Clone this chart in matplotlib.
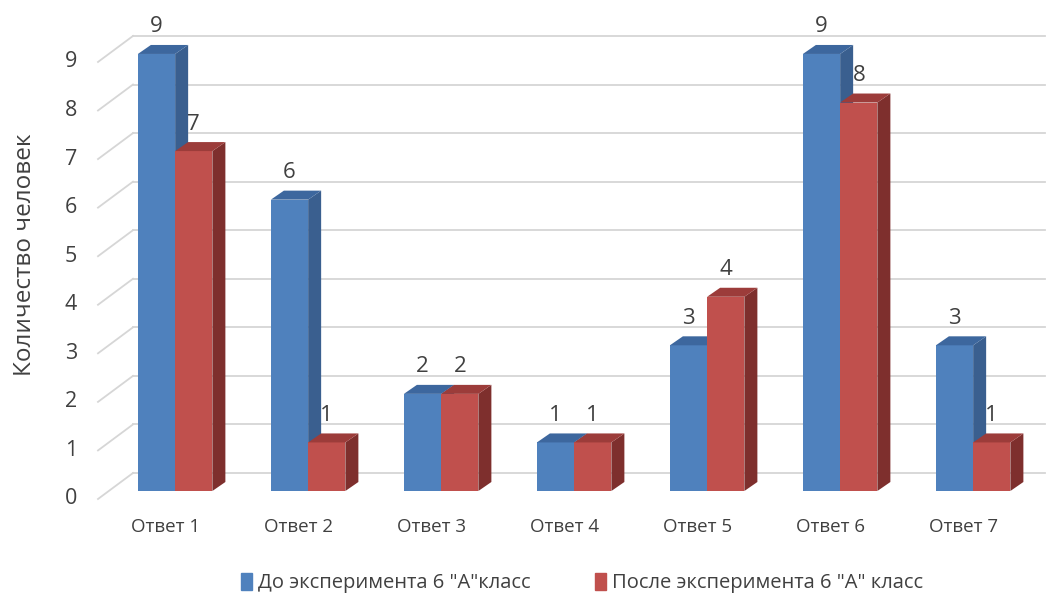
import matplotlib
matplotlib.use("Agg")
import matplotlib.pyplot as plt
from matplotlib.patches import Polygon, Patch

# data
categories = ["Ответ 1", "Ответ 2", "Ответ 3", "Ответ 4", "Ответ 5", "Ответ 6", "Ответ 7"]
before = [9, 6, 2, 1, 3, 9, 3]
after = [7, 1, 2, 1, 4, 8, 1]
series_names = ['До эксперимента 6 "А"класс', 'После эксперимента 6 "А" класс']
yticks = list(range(0, 10))

plt.rcParams['font.family'] = ['Open Sans', 'DejaVu Sans']

W, H = 1052, 599
fig = plt.figure(figsize=(W / 100, H / 100), dpi=100)

# pixel scale of the data units
UX, UY = 133.0, 48.56
x0, x1 = -0.58, 6.54
y0, y1 = -0.4, 10.0
left_px = 98
bottom_px = 108 + y0 * UY
ax = fig.add_axes([left_px / W, bottom_px / H, (x1 - x0) * UX / W, (y1 - y0) * UY / H])
ax.set_xlim(x0, x1)
ax.set_ylim(y0, y1)
ax.axis("off")

# 3d offsets (in data units)
bdx, bdy = 13 / UX, 9 / UY          # bar depth
front = -8 / UY                     # front edge of floor vs bar front
wdx, wdy = 35 / UX, 26 / UY         # back wall vs front edge

grid_c = "#d6d6d6"
txt_c = "#404040"
for v in yticks:
    yf = v + front
    yb = yf + wdy
    ax.plot([x0, x0 + wdx], [yf, yb], color=grid_c, lw=1.3, zorder=1, clip_on=False)
    ax.plot([x0 + wdx, x1], [yb, yb], color=grid_c, lw=1.3, zorder=1, clip_on=False)
    ax.text(x0 - 27 / UX, yf, str(v), ha="center", va="center", fontsize=15.5,
            color=txt_c)

bw = 0.28
styles = [
    ("#4f81bd", "#3a5f8f", "#3d679e"),
    ("#c0504d", "#7e2f2d", "#9c3c3a"),
]


def draw_bar(xl, val, cols, z):
    fc, sc, tc = cols
    ax.bar(xl, val, width=bw, align="edge", color=fc, zorder=z, lw=0)
    side = [(xl + bw, 0), (xl + bw + bdx, bdy), (xl + bw + bdx, val + bdy), (xl + bw, val)]
    top = [(xl, val), (xl + bdx, val + bdy), (xl + bw + bdx, val + bdy), (xl + bw, val)]
    ax.add_patch(Polygon(side, closed=True, fc=sc, ec="none", zorder=z))
    ax.add_patch(Polygon(top, closed=True, fc=tc, ec="none", zorder=z))
    ax.text(xl + bw / 2, val + 27 / UY, str(val), ha="center", va="center",
            fontsize=16, color=txt_c, zorder=10)


for i in range(len(categories)):
    draw_bar(i - bw, before[i], styles[0], 3 + i * 2)
    draw_bar(i, after[i], styles[1], 4 + i * 2)
    ax.text(i - 0.07, -0.74, categories[i], ha="center", va="center", fontsize=13.5,
            color=txt_c)

fig.text(25 / W, 1 - 255 / H, "Количество человек", rotation=90, ha="center",
         va="center", fontsize=17.5, color=txt_c)

handles = [Patch(color=styles[0][0]), Patch(color=styles[1][0])]
fig.legend(handles, series_names, loc="center", bbox_to_anchor=(0.553, 16 / H), ncol=2,
           frameon=False, fontsize=14.5, handlelength=0.55, handleheight=0.9,
           handletextpad=0.3, columnspacing=3.2, labelcolor=txt_c)

fig.savefig("out.png", dpi=100)
